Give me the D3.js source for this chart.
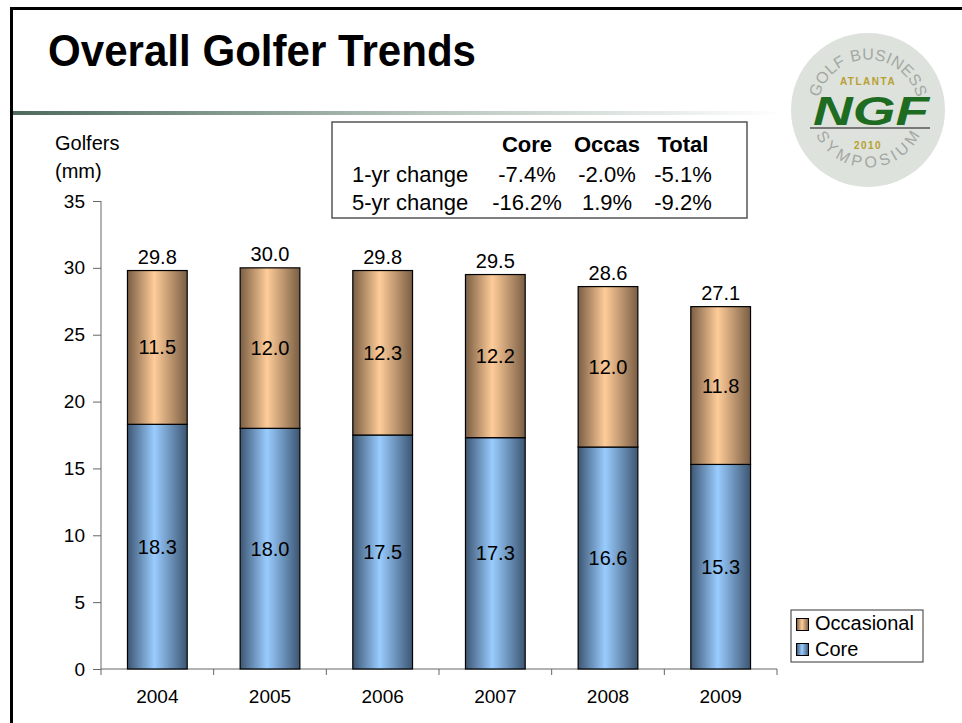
<!DOCTYPE html>
<html>
  <head>
    <meta charset="utf-8" />
    <title>Overall Golfer Trends</title>
    <script src="https://d3js.org/d3.v7.min.js"></script>
    <style>
      body { margin: 0; background: #fff; }
      text { font-family: "Liberation Sans", Arial, sans-serif; }
    </style>
  </head>
  <body>
    <svg id="chart" width="962" height="723"></svg>

    <script>
      var years = ["2004", "2005", "2006", "2007", "2008", "2009"];
      var core = [18.3, 18.0, 17.5, 17.3, 16.6, 15.3];
      var occasional = [11.5, 12.0, 12.3, 12.2, 12.0, 11.8];
      var totals = [29.8, 30.0, 29.8, 29.5, 28.6, 27.1];
      var yTicks = [0, 5, 10, 15, 20, 25, 30, 35];

      var tableCols = ["Core", "Occas", "Total"];
      var tableRows = [
        { label: "1-yr change", values: ["-7.4%", "-2.0%", "-5.1%"] },
        { label: "5-yr change", values: ["-16.2%", "1.9%", "-9.2%"] }
      ];

      var svg = d3.select("#chart");
      var defs = svg.append("defs");

      function barGradient(id, dark, light) {
        var g = defs.append("linearGradient").attr("id", id)
          .attr("x1", "0%").attr("x2", "100%").attr("y1", "0%").attr("y2", "0%");
        g.append("stop").attr("offset", "0%").attr("stop-color", dark);
        g.append("stop").attr("offset", "45%").attr("stop-color", light);
        g.append("stop").attr("offset", "100%").attr("stop-color", dark);
      }
      barGradient("gCore", "#3d5673", "#99ccff");
      barGradient("gOcc", "#7a5e44", "#ffcc99");

      var sep = defs.append("linearGradient").attr("id", "gSep")
        .attr("x1", "0%").attr("x2", "100%");
      sep.append("stop").attr("offset", "0%").attr("stop-color", "#4d6b5c");
      sep.append("stop").attr("offset", "55%").attr("stop-color", "#b9c7bf");
      sep.append("stop").attr("offset", "100%").attr("stop-color", "#ffffff");

      // slide frame
      svg.append("rect").attr("x", 10).attr("y", 7).attr("width", 952).attr("height", 3).attr("fill", "#000");
      svg.append("rect").attr("x", 10).attr("y", 7).attr("width", 3).attr("height", 716).attr("fill", "#000");

      svg.append("text").attr("x", 48).attr("y", 66)
        .attr("font-size", 44).attr("font-weight", "bold").attr("fill", "#000")
        .attr("textLength", 428).attr("lengthAdjust", "spacingAndGlyphs")
        .text("Overall Golfer Trends");

      svg.append("rect").attr("x", 13).attr("y", 111).attr("width", 770).attr("height", 4)
        .attr("fill", "url(#gSep)");

      // logo
      var logo = svg.append("g").attr("transform", "translate(868,110)");
      logo.append("circle").attr("r", 77).attr("fill", "#dde2dd");

      // curved words, letters spaced by their own widths
      function arcWord(word, radius, midAngle, spacing, outward) {
        var letters = word.split("").map(function (ch) {
          if (ch === " ") return { node: null, w: 6 };
          var t = logo.append("text")
            .attr("text-anchor", "middle").attr("dy", "0.35em")
            .attr("font-family", "Liberation Serif, serif").attr("font-size", 16)
            .attr("fill", "#a3a8a3").text(ch);
          return { node: t, w: t.node().getComputedTextLength() + spacing };
        });
        var total = d3.sum(letters, function (l) { return l.w; });
        var pos = -total / 2;
        letters.forEach(function (l) {
          var offDeg = (pos + l.w / 2) / radius * 180 / Math.PI;
          pos += l.w;
          if (!l.node) return;
          var a = outward ? midAngle + offDeg : midAngle - offDeg;
          var rad = a * Math.PI / 180;
          var rot = outward ? a + 90 : a - 90;
          l.node.attr("transform", "translate(" + radius * Math.cos(rad) + "," +
            radius * Math.sin(rad) + ") rotate(" + rot + ")");
        });
      }
      arcWord("GOLF BUSINESS", 56, 270, 1.5, true);
      arcWord("SYMPOSIUM", 52, 90, 2.5, false);

      logo.append("text").attr("y", -25).attr("text-anchor", "middle").attr("font-size", 10)
        .attr("font-weight", "bold").attr("fill", "#b8a030").attr("letter-spacing", 1.5).text("ATLANTA");
      logo.append("text").attr("x", 3).attr("y", 15).attr("text-anchor", "middle").attr("font-size", 40)
        .attr("font-weight", "bold").attr("font-style", "italic").attr("fill", "#1e6b22")
        .attr("textLength", 116).attr("lengthAdjust", "spacingAndGlyphs").text("NGF");
      logo.append("line").attr("x1", -58).attr("x2", 62).attr("y1", 18).attr("y2", 18)
        .attr("stroke", "#555").attr("stroke-width", 1.5);
      logo.append("text").attr("y", 39).attr("text-anchor", "middle").attr("font-size", 10)
        .attr("font-weight", "bold").attr("fill", "#b8a030").attr("letter-spacing", 1.5).text("2010");

      // scales
      var x = d3.scaleBand().domain(years).range([101, 777]).paddingInner(0.47).paddingOuter(0.235);
      var y = d3.scaleLinear().domain([0, 35]).range([669, 201]);

      // axes
      var yAxis = svg.append("g").attr("transform", "translate(101,0)")
        .call(d3.axisLeft(y).tickValues(yTicks).tickSize(8).tickPadding(8).tickFormat(d3.format("d")));
      yAxis.select(".domain").attr("stroke", "#666").attr("d", "M0,201V669");
      yAxis.selectAll(".tick line").attr("stroke", "#666");
      yAxis.selectAll(".tick text").attr("font-size", 19).attr("fill", "#000")
        .attr("font-family", "Liberation Sans, Arial, sans-serif");

      var xAxis = svg.append("g").attr("transform", "translate(0,669)")
        .call(d3.axisBottom(x).tickSize(0).tickPadding(21));
      xAxis.select(".domain").attr("stroke", "#666").attr("d", "M101,0H777");
      xAxis.selectAll(".tick text").attr("font-size", 19).attr("fill", "#000")
        .attr("font-family", "Liberation Sans, Arial, sans-serif");
      var step = x.step();
      xAxis.selectAll(".sep").data(d3.range(years.length + 1)).enter().append("line")
        .attr("x1", function (i) { return 101 + i * step; })
        .attr("x2", function (i) { return 101 + i * step; })
        .attr("y1", 0).attr("y2", 6).attr("stroke", "#666");

      svg.append("text").attr("x", 55).attr("y", 150).attr("font-size", 20).text("Golfers");
      svg.append("text").attr("x", 55).attr("y", 178).attr("font-size", 20).text("(mm)");

      // bars
      var bars = svg.append("g").selectAll("g").data(years).enter().append("g");
      bars.append("rect")
        .attr("x", function (d) { return x(d); })
        .attr("width", x.bandwidth())
        .attr("y", function (d, i) { return y(core[i]); })
        .attr("height", function (d, i) { return y(0) - y(core[i]); })
        .attr("fill", "url(#gCore)").attr("stroke", "#000").attr("stroke-width", 1.2);
      bars.append("rect")
        .attr("x", function (d) { return x(d); })
        .attr("width", x.bandwidth())
        .attr("y", function (d, i) { return y(core[i] + occasional[i]); })
        .attr("height", function (d, i) { return y(core[i]) - y(core[i] + occasional[i]); })
        .attr("fill", "url(#gOcc)").attr("stroke", "#000").attr("stroke-width", 1.2);

      var cx = function (d) { return x(d) + x.bandwidth() / 2; };
      bars.append("text").attr("x", cx).attr("text-anchor", "middle").attr("font-size", 20)
        .attr("y", function (d, i) { return y(core[i] / 2) + 7; })
        .text(function (d, i) { return core[i].toFixed(1); });
      bars.append("text").attr("x", cx).attr("text-anchor", "middle").attr("font-size", 20)
        .attr("y", function (d, i) { return y(core[i] + occasional[i] / 2) + 7; })
        .text(function (d, i) { return occasional[i].toFixed(1); });
      bars.append("text").attr("x", cx).attr("text-anchor", "middle").attr("font-size", 20)
        .attr("y", function (d, i) { return y(totals[i]) - 7; })
        .text(function (d, i) { return totals[i].toFixed(1); });

      // legend
      var leg = svg.append("g").attr("transform", "translate(791,610)");
      leg.append("rect").attr("width", 132).attr("height", 52).attr("fill", "#fff")
        .attr("stroke", "#333").attr("stroke-width", 1);
      [["Occasional", "url(#gOcc)"], ["Core", "url(#gCore)"]].forEach(function (item, i) {
        leg.append("rect").attr("x", 5.5).attr("y", 8.5 + i * 25).attr("width", 12).attr("height", 12)
          .attr("fill", item[1]).attr("stroke", "#000");
        leg.append("text").attr("x", 24).attr("y", 20 + i * 26).attr("font-size", 20).text(item[0]);
      });

      // change table
      var tbl = svg.append("g");
      tbl.append("rect").attr("x", 332).attr("y", 122).attr("width", 415).attr("height", 96)
        .attr("fill", "#fff").attr("stroke", "#555").attr("stroke-width", 1.5);
      var colX = [527, 607, 683];
      tableCols.forEach(function (c, j) {
        tbl.append("text").attr("x", colX[j]).attr("y", 152).attr("text-anchor", "middle")
          .attr("font-size", 22).attr("font-weight", "bold").text(c);
      });
      tableRows.forEach(function (r, i) {
        tbl.append("text").attr("x", 352).attr("y", 182 + i * 28).attr("font-size", 22).text(r.label);
        r.values.forEach(function (v, j) {
          tbl.append("text").attr("x", colX[j]).attr("y", 182 + i * 28).attr("text-anchor", "middle")
            .attr("font-size", 22).text(v);
        });
      });
    </script>
  </body>
</html>
